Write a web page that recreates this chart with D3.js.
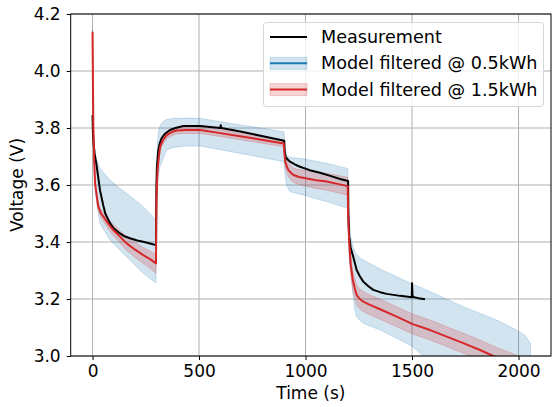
<!DOCTYPE html>
<html>
<head>
<meta charset="utf-8">
<script src="https://cdn.jsdelivr.net/npm/d3@7"></script>
<style>
  body { margin: 0; background: #fff; }
  text { font-family: "DejaVu Sans", sans-serif; }
</style>
</head>
<body>
<div class="voltageChart"></div>
<script>
// measurement
let measTime = [0, 2, 5, 10, 20, 35, 50, 60, 82, 100, 129, 150, 176, 210, 238, 270, 298,
  300, 302, 305, 309, 315, 325, 340, 364, 390, 426, 505, 600, 602, 605, 700, 800, 900,
  902, 906, 915, 927, 950, 974, 1020, 1068, 1120, 1162, 1200,
  1201, 1205, 1212, 1224, 1240, 1255, 1271, 1295, 1318, 1350, 1381, 1444, 1499,
  1500, 1502, 1505, 1530, 1561];
let measVolt = [3.846, 3.78, 3.745, 3.71, 3.664, 3.582, 3.53, 3.50, 3.466, 3.447, 3.43, 3.42, 3.413, 3.405, 3.401, 3.395, 3.389,
  3.60, 3.66, 3.69, 3.723, 3.745, 3.765, 3.78, 3.793, 3.80, 3.807, 3.807, 3.80, 3.81, 3.80, 3.787, 3.771, 3.755,
  3.72, 3.70, 3.69, 3.682, 3.672, 3.664, 3.652, 3.643, 3.631, 3.621, 3.614,
  3.50, 3.42, 3.38, 3.348, 3.302, 3.28, 3.261, 3.245, 3.232, 3.224, 3.218, 3.211, 3.206,
  3.255, 3.215, 3.207, 3.203, 3.199];

// model filtered @ 1.5kWh
let redTime = [0, 2, 4, 8, 12, 20, 27, 40, 51, 75, 98, 130, 160, 200, 238, 270, 298,
  300, 305, 310, 317, 330, 348, 370, 395, 440, 505, 600, 700, 800, 898,
  900, 905, 912, 919, 930, 943, 970, 1006, 1050, 1099, 1150, 1198,
  1200, 1205, 1212, 1222, 1232, 1240, 1255, 1271, 1300, 1350, 1428, 1503, 1585, 1663, 1741, 1819, 1882, 1950, 2000, 2050];
let redVolt = [4.138, 3.95, 3.80, 3.68, 3.606, 3.56, 3.524, 3.50, 3.489, 3.463, 3.442, 3.418, 3.395, 3.373, 3.354, 3.34, 3.325,
  3.55, 3.65, 3.69, 3.734, 3.757, 3.775, 3.785, 3.791, 3.793, 3.793, 3.782, 3.770, 3.758, 3.746,
  3.72, 3.68, 3.665, 3.653, 3.644, 3.635, 3.628, 3.623, 3.617, 3.612, 3.604, 3.596,
  3.50, 3.40, 3.32, 3.267, 3.235, 3.214, 3.20, 3.191, 3.18, 3.164, 3.138, 3.112, 3.091, 3.068, 3.045, 3.021, 3.0, 2.98, 2.965, 2.95];
let redLow = [4.135, 3.945, 3.79, 3.67, 3.595, 3.547, 3.510, 3.485, 3.472, 3.445, 3.422, 3.396, 3.371, 3.346, 3.325, 3.308, 3.29,
  3.52, 3.625, 3.67, 3.718, 3.743, 3.762, 3.772, 3.779, 3.781, 3.781, 3.770, 3.758, 3.746, 3.734,
  3.705, 3.66, 3.642, 3.629, 3.619, 3.609, 3.601, 3.595, 3.588, 3.582, 3.573, 3.564,
  3.46, 3.36, 3.285, 3.232, 3.20, 3.179, 3.165, 3.156, 3.145, 3.129, 3.103, 3.077, 3.056, 3.033, 3.010, 2.986, 2.965, 2.945, 2.93, 2.915];
let redHigh = [4.140, 3.955, 3.81, 3.69, 3.617, 3.573, 3.538, 3.515, 3.505, 3.480, 3.461, 3.439, 3.418, 3.398, 3.381, 3.368, 3.355,
  3.58, 3.675, 3.71, 3.75, 3.771, 3.788, 3.798, 3.803, 3.805, 3.805, 3.794, 3.782, 3.770, 3.758,
  3.745, 3.70, 3.688, 3.677, 3.669, 3.66, 3.654, 3.65, 3.645, 3.641, 3.634, 3.627,
  3.54, 3.44, 3.355, 3.30, 3.27, 3.249, 3.235, 3.226, 3.215, 3.199, 3.173, 3.147, 3.126, 3.103, 3.080, 3.056, 3.035, 3.015, 3.0, 2.985];

// model filtered @ 0.5kWh (band)
let blueTime = [0, 2, 4, 8, 12, 20, 35, 50, 82, 120, 160, 200, 238, 270, 298,
  300, 305, 310, 317, 330, 348, 380, 440, 505, 600, 700, 800, 898,
  900, 905, 911, 920, 927, 950, 990, 1050, 1100, 1150, 1198,
  1200, 1205, 1212, 1222, 1232, 1240, 1255, 1271, 1350, 1428, 1503, 1552, 1585, 1741, 1897, 1991, 2030, 2056];
let blueLow = [4.13, 3.94, 3.78, 3.66, 3.585, 3.53, 3.466, 3.445, 3.407, 3.378, 3.348, 3.318, 3.29, 3.272, 3.257,
  3.48, 3.60, 3.635, 3.664, 3.69, 3.723, 3.732, 3.737, 3.737, 3.724, 3.71, 3.696, 3.682,
  3.67, 3.63, 3.60, 3.585, 3.577, 3.572, 3.565, 3.552, 3.542, 3.53, 3.518,
  3.45, 3.34, 3.30, 3.22, 3.16, 3.138, 3.125, 3.115, 3.091, 3.062, 3.033, 3.0, 2.985, 2.94, 2.90, 2.88, 2.87, 2.86];
let blueHigh = [4.145, 3.96, 3.82, 3.72, 3.70, 3.688, 3.66, 3.645, 3.618, 3.593, 3.571, 3.547, 3.524, 3.50, 3.477,
  3.62, 3.75, 3.79, 3.808, 3.822, 3.830, 3.834, 3.835, 3.834, 3.822, 3.81, 3.799, 3.787,
  3.77, 3.73, 3.705, 3.70, 3.697, 3.695, 3.692, 3.683, 3.676, 3.667, 3.658,
  3.62, 3.50, 3.42, 3.385, 3.365, 3.355, 3.346, 3.337, 3.305, 3.278, 3.252, 3.237, 3.226, 3.173, 3.126, 3.091, 3.072, 3.045];

let xTicks = [0, 500, 1000, 1500, 2000];
let yTicks = [3.0, 3.2, 3.4, 3.6, 3.8, 4.0, 4.2];
let legendLabels = ['Measurement', 'Model filtered @ 0.5kWh', 'Model filtered @ 1.5kWh'];

function drawVoltageChart(d3) {
  let width = 552;
  let height = 407;
  let fontSize = 17;
  let margin = { top: 14, bottom: 51, left: 70.7, right: 1 };

  let svg = d3.select('.voltageChart')
    .append('svg')
    .attr('width', width)
    .attr('height', height);

  let xScale = d3.scaleLinear()
    .domain([-102.5, 2152.5])
    .range([margin.left, width - margin.right]);

  let yScale = d3.scaleLinear()
    .domain([3.0, 4.2])
    .range([height - margin.bottom, margin.top]);

  svg.append('clipPath').attr('id', 'plotClip')
    .append('rect')
    .attr('x', margin.left).attr('y', margin.top)
    .attr('width', width - margin.right - margin.left)
    .attr('height', height - margin.bottom - margin.top);

  // grid
  let grid = svg.append('g');
  grid.selectAll('.vgrid').data(xTicks).enter().append('line')
    .attr('x1', d => xScale(d)).attr('x2', d => xScale(d))
    .attr('y1', margin.top).attr('y2', height - margin.bottom)
    .attr('stroke', '#b0b0b0').attr('stroke-width', 1);
  grid.selectAll('.hgrid').data(yTicks).enter().append('line')
    .attr('y1', d => yScale(d)).attr('y2', d => yScale(d))
    .attr('x1', margin.left).attr('x2', width - margin.right)
    .attr('stroke', '#b0b0b0').attr('stroke-width', 1);

  let plot = svg.append('g').attr('clip-path', 'url(#plotClip)');

  let blueBand = blueTime.map((t, i) => ({ t: t, lo: blueLow[i], hi: blueHigh[i] }));
  let redBand = redTime.map((t, i) => ({ t: t, lo: redLow[i], hi: redHigh[i] }));

  let area = d3.area()
    .x(d => xScale(d.t))
    .y0(d => yScale(d.lo))
    .y1(d => yScale(d.hi));

  plot.append('path').datum(blueBand)
    .attr('d', area)
    .attr('fill', '#1f77b4').attr('fill-opacity', 0.2)
    .attr('stroke', '#1f77b4').attr('stroke-opacity', 0.2).attr('stroke-width', 1);

  plot.append('path').datum(redBand)
    .attr('d', area)
    .attr('fill', '#d62728').attr('fill-opacity', 0.2)
    .attr('stroke', '#d62728').attr('stroke-opacity', 0.2).attr('stroke-width', 1);

  let line = d3.line()
    .x(d => xScale(d[0]))
    .y(d => yScale(d[1]));

  plot.append('path').datum(measTime.map((t, i) => [t, measVolt[i]]))
    .attr('d', line)
    .attr('fill', 'none').attr('stroke', '#000').attr('stroke-width', 2)
    .attr('stroke-linejoin', 'round');

  plot.append('path').datum(redTime.map((t, i) => [t, redVolt[i]]))
    .attr('d', line)
    .attr('fill', 'none').attr('stroke', '#d62728').attr('stroke-width', 2)
    .attr('stroke-linejoin', 'round');

  // axes
  let xAxis = svg.append('g')
    .attr('transform', 'translate(0,' + (height - margin.bottom) + ')')
    .call(d3.axisBottom(xScale).tickValues(xTicks).tickSize(4).tickPadding(5).tickFormat(d3.format('d')));
  let yAxis = svg.append('g')
    .attr('transform', 'translate(' + margin.left + ',0)')
    .call(d3.axisLeft(yScale).tickValues(yTicks).tickSize(4).tickPadding(6).tickFormat(d3.format('.1f')));

  [xAxis, yAxis].forEach(function(a) {
    a.selectAll('text').attr('font-size', fontSize).attr('font-family', 'DejaVu Sans').attr('fill', '#000');
    a.selectAll('line').attr('stroke', '#000').attr('stroke-width', 1);
    a.select('.domain').remove();
  });

  // spines
  svg.append('rect')
    .attr('x', margin.left).attr('y', margin.top)
    .attr('width', width - margin.right - margin.left)
    .attr('height', height - margin.bottom - margin.top)
    .attr('fill', 'none').attr('stroke', '#000').attr('stroke-width', 1);

  svg.append('text')
    .attr('x', (margin.left + width - margin.right) / 2).attr('y', 398.5)
    .attr('text-anchor', 'middle').attr('font-size', fontSize)
    .text('Time (s)');

  svg.append('text')
    .attr('transform', 'translate(22.5,' + ((margin.top + height - margin.bottom) / 2) + ') rotate(-90)')
    .attr('text-anchor', 'middle').attr('font-size', fontSize)
    .text('Voltage (V)');

  // legend
  let legend = svg.append('g');
  legend.append('rect')
    .attr('x', 263.5).attr('y', 22.5).attr('width', 280).attr('height', 84)
    .attr('rx', 3)
    .attr('fill', '#fff').attr('fill-opacity', 0.8)
    .attr('stroke', '#d6d6d6').attr('stroke-width', 1);

  let rows = [
    { label: legendLabels[0], color: '#000', band: false },
    { label: legendLabels[1], color: '#1f77b4', band: true },
    { label: legendLabels[2], color: '#d62728', band: true }
  ];
  rows.forEach(function(r, i) {
    let cy = 37 + i * 26.3;
    if (r.band) {
      legend.append('rect')
        .attr('x', 270).attr('y', cy - 6).attr('width', 37).attr('height', 12)
        .attr('fill', r.color).attr('fill-opacity', 0.2)
        .attr('stroke', r.color).attr('stroke-opacity', 0.2);
    }
    legend.append('line')
      .attr('x1', 270).attr('x2', 307).attr('y1', cy).attr('y2', cy)
      .attr('stroke', r.color).attr('stroke-width', 2);
    legend.append('text')
      .attr('x', 321).attr('y', cy).attr('dy', '0.35em')
      .attr('font-size', 17.6)
      .text(r.label);
  });
}

drawVoltageChart(d3);
</script>
</body>
</html>
